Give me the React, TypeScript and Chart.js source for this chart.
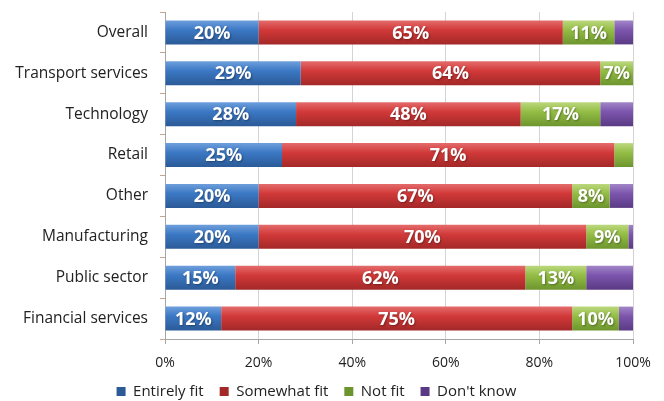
import React, { useEffect, useRef } from "react";
import { Chart, registerables } from "chart.js";

Chart.register(...registerables);

const categories = [
  "Overall",
  "Transport services",
  "Technology",
  "Retail",
  "Other",
  "Manufacturing",
  "Public sector",
  "Financial services",
];
const entirelyFit = [20, 29, 28, 25, 20, 20, 15, 12];
const somewhatFit = [65, 64, 48, 71, 67, 70, 62, 75];
const notFit = [11, 7, 17, 4, 8, 9, 13, 10];
const dontKnow = [4, 0, 7, 0, 5, 2, 10, 3];
const seriesNames = ["Entirely fit", "Somewhat fit", "Not fit", "Don't know"];
const xTickStep = 20;

const palettes = [
  ["#6e9fdc", "#3b78c4", "#2b5a97"],
  ["#e46c6c", "#d23939", "#a32828"],
  ["#bcd87e", "#93bd45", "#6d952e"],
  ["#a286c8", "#7c55ad", "#5a3a84"],
];

const FONT = '"Open Sans", "Noto Sans", sans-serif';

const gradientFor = (stops: string[]) => (ctx: any) => {
  const chart = ctx.chart;
  const y = chart.scales && chart.scales.y;
  if (ctx.type !== "data" || !y || !chart.chartArea) return stops[1];
  const yc = y.getPixelForValue(ctx.dataIndex);
  const h = 12;
  const g = chart.ctx.createLinearGradient(0, yc - h, 0, yc + h);
  g.addColorStop(0, stops[0]);
  g.addColorStop(0.4, stops[1]);
  g.addColorStop(1, stops[2]);
  return g;
};

const barLabels = {
  id: "barLabels",
  beforeLayout(chart: any) {
    const lg = chart.legend;
    if (lg && !lg.__patched) {
      const orig = lg.fit;
      lg.fit = function () {
        orig.call(this);
        this.height = 33;
      };
      lg.__patched = true;
    }
  },
  afterDatasetsDraw(chart: any) {
    const { ctx } = chart;
    ctx.save();
    ctx.font = `bold 18px ${FONT}`;
    ctx.fillStyle = "#ffffff";
    ctx.textAlign = "center";
    ctx.textBaseline = "middle";
    ctx.shadowColor = "rgba(0,0,0,0.35)";
    ctx.shadowBlur = 2;
    ctx.shadowOffsetX = 1;
    ctx.shadowOffsetY = 1;
    chart.data.datasets.forEach((ds: any, di: number) => {
      if (di > 2) return;
      const meta = chart.getDatasetMeta(di);
      meta.data.forEach((el: any, i: number) => {
        const v = ds.data[i];
        if (v < 5) return;
        const { x, y, base } = el.getProps(["x", "y", "base"], true);
        ctx.fillText(v + "%", (x + base) / 2, y + 1);
      });
    });
    ctx.restore();
  },
};

export default function App() {
  const ref = useRef<HTMLCanvasElement | null>(null);
  useEffect(() => {
    if (!ref.current) return;
    const series = [entirelyFit, somewhatFit, notFit, dontKnow];
    const chart = new Chart(ref.current, {
      type: "bar",
      data: {
        labels: categories,
        datasets: series.map((d, i) => ({
          label: seriesNames[i],
          data: d,
          backgroundColor: gradientFor(palettes[i]),
          borderWidth: 0,
          barPercentage: 0.585,
          categoryPercentage: 1,
        })),
      },
      options: {
        indexAxis: "y",
        responsive: false,
        animation: false,
        layout: { padding: { left: 0, right: 31, top: 12, bottom: 0 } },
        scales: {
          x: {
            stacked: true,
            min: 0,
            max: 100,
            position: "bottom",
            ticks: {
              stepSize: xTickStep,
              callback: (v: any) => v + "%",
              font: { family: FONT, size: 14 },
              color: "#222",
              padding: 11,
              maxRotation: 0,
            },
            grid: { color: "#d4d4d4", tickLength: 5, tickColor: "#a6a6a6" },
            border: { color: "#a6a6a6" },
            afterFit: (s: any) => {
              s.height = 29;
              s.paddingLeft = 0;
              s.paddingRight = 0;
            },
          },
          y: {
            stacked: true,
            ticks: {
              font: { family: FONT, size: 15.5 },
              color: "#222",
              padding: 12,
            },
            grid: {
              drawOnChartArea: false,
              tickLength: 5,
              tickColor: "#c9a58a",
              offset: true,
            },
            border: { color: "#a6a6a6" },
            afterFit: (s: any) => {
              s.width = 165;
              s.paddingTop = 0;
              s.paddingBottom = 0;
            },
          },
        },
        plugins: {
          legend: {
            position: "bottom",
            labels: {
              boxWidth: 9,
              boxHeight: 9,
              padding: 16,
              color: "#222",
              font: { family: FONT, size: 15 },
            },
          },
          tooltip: { enabled: false },
        },
      },
      plugins: [barLabels],
    });
    return () => chart.destroy();
  }, []);
  return (
    <div style={{ position: "fixed", left: 0, top: 0, width: 664, height: 401, background: "#fff" }}>
      <canvas ref={ref} width={664} height={401} />
    </div>
  );
}
